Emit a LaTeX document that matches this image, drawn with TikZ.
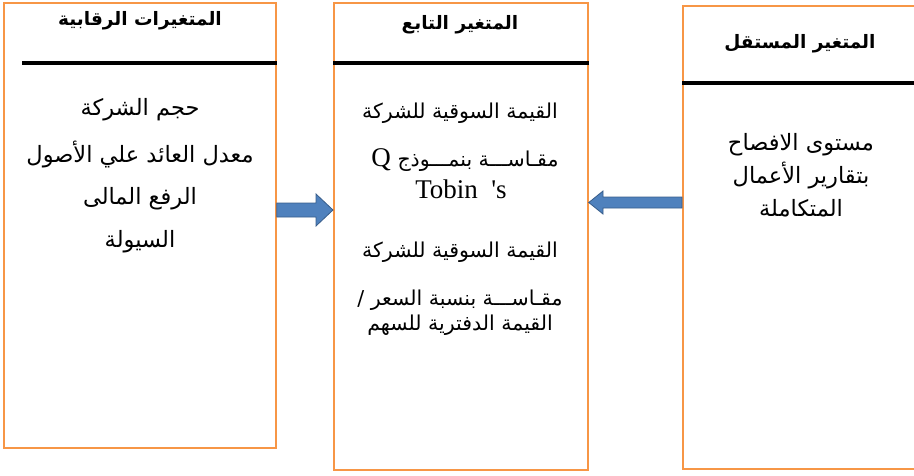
\documentclass[tikz,border=0pt]{standalone}
\usepackage{fontspec}
\TeXXeTstate=1
\newfontfamily\arabicfont[Script=Arabic]{DejaVu Sans}
\newfontfamily\latinserif{Liberation Serif}
\usetikzlibrary{calc}
\definecolor{boxorange}{HTML}{F79646}
\definecolor{arrowfill}{HTML}{4F81BD}
\definecolor{arrowline}{HTML}{385D8A}
\tikzset{
  box/.style={draw=boxorange, line width=1.8pt, fill=white, rectangle, anchor=north west, inner sep=0pt},
  hline/.style={line width=4pt, black},
  atext/.style={font=\arabicfont\fontsize{22.5}{26}\selectfont, inner sep=0pt, anchor=center},
  mtext/.style={font=\arabicfont\fontsize{20.5}{24}\selectfont, inner sep=0pt, anchor=center},
  htext/.style={font=\arabicfont\bfseries\fontsize{18.5}{22}\selectfont, inner sep=0pt, anchor=center},
  ltext/.style={font=\latinserif\fontsize{27}{30}\selectfont, inner sep=0pt, anchor=center},
  blockarrow/.style={fill=arrowfill, draw=arrowline, line width=0.8pt, line join=miter}
}
\begin{document}
\begin{tikzpicture}[x=1pt,y=-1pt]
\useasboundingbox (0,0) rectangle (914,475);
% boxes
\node[box, minimum width=272pt, minimum height=445pt] (L) at (3,2) {};
\node[box, minimum width=254pt, minimum height=467pt] (M) at (333,2) {};
\node[box, minimum width=250pt, minimum height=463pt] (R) at (682,5) {};
% header rules
\draw[hline] ($(L.north west)+(19,61)$) -- ($(L.north east)+(0,61)$);
\draw[hline] ($(M.north west)+(0,61)$) -- ($(M.north east)+(0,61)$);
\draw[hline] ($(R.north west)+(0,78)$) -- ($(R.north east)+(0,78)$);
% headers
\node[htext] (lh) at (140,21) {\beginR المتغيرات الرقابية\endR};
\node[htext] (mh) at (460,25) {\beginR المتغير التابع\endR};
\node[htext] (rh) at (800,44) {\beginR المتغير المستقل\endR};
% left contents
\node[atext] (l1) at (140,110) {\beginR حجم الشركة\endR};
\node[atext] (l2) at (140,155) {\beginR معدل العائد علي الأصول\endR};
\node[atext] (l3) at (140,199) {\beginR الرفع المالى\endR};
\node[atext] (l4) at (140,242) {\beginR السيولة\endR};
% middle contents
\node[mtext] (m1) at (460,113) {\beginR القيمة السوقية للشركة\endR};
\node[mtext] (m2) at (465,160) {\beginR مقـاســـة بنمـــوذج \beginL{\latinserif\fontsize{27}{30}\selectfont Q}\endL\endR};
\node[ltext] (m3) at (461,189) {Tobin\ \ 's};
\node[mtext] (m4) at (460,252) {\beginR القيمة السوقية للشركة\endR};
\node[mtext] (m5) at (460,300) {\beginR مقـاســـة بنسبة السعر /\endR};
\node[mtext] (m6) at (460,325) {\beginR القيمة الدفترية للسهم\endR};
% right contents
\node[atext] (r1) at (801,145) {\beginR مستوى الافصاح\endR};
\node[atext] (r2) at (801,176) {\beginR بتقارير الأعمال\endR};
\node[atext] (r3) at (801,208) {\beginR المتكاملة\endR};
% block arrows
\draw[blockarrow] (L.east |- 0,203) -- (316,203) -- (316,194) -- (M.west |- 0,210) -- (316,226) -- (316,217) -- (L.east |- 0,217) -- cycle;
\draw[blockarrow] (R.west |- 0,197) -- (603,197) -- (603,191) -- (M.east |- 0,202.5) -- (603,214) -- (603,208) -- (R.west |- 0,208) -- cycle;
\end{tikzpicture}
\end{document}
